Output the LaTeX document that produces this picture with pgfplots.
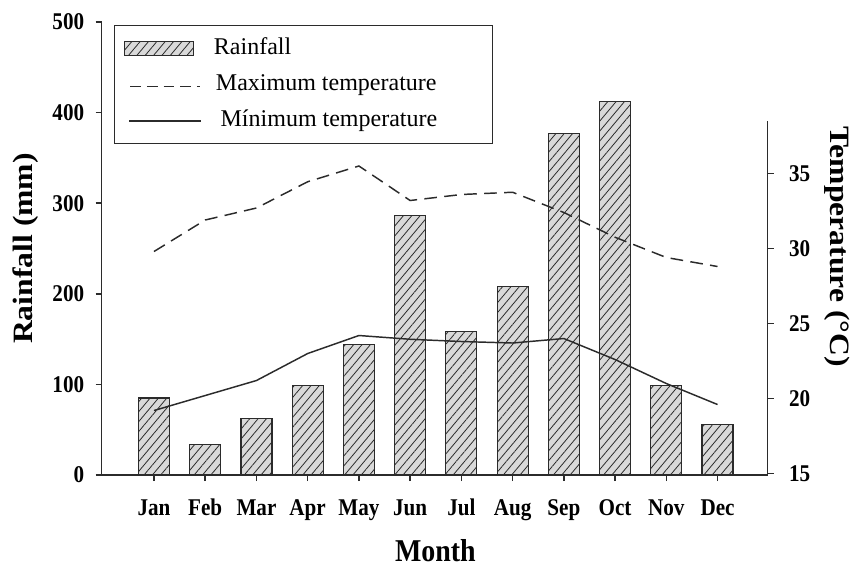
\documentclass[border=0pt]{standalone}
\usepackage{fontspec}
\setmainfont{Liberation Serif}
\newfontfamily\bcond[FakeStretch=0.88]{Liberation Serif}
\newfontfamily\rotfont[FakeStretch=1.13]{Liberation Serif}
\usepackage{pgfplots}
\usepackage{pgfplotstable}
\pgfplotsset{compat=1.18}
\usetikzlibrary{patterns.meta}

\definecolor{barfill}{HTML}{D9D9D9}
\definecolor{linec}{HTML}{2B2B2B}

\pgfplotstableread{
x rain tmax tmin
0 85 29.8 19.2
1 34 31.9 20.2
2 62 32.7 21.2
3 99 34.45 23.0
4 144 35.5 24.2
5 286 33.2 23.95
6 158 33.6 23.8
7 208 33.75 23.7
8 377 32.4 24.0
9 412 30.75 22.6
10 99 29.4 21.0
11 56 28.8 19.6
}\data

\begin{document}
\begin{tikzpicture}
\path[use as bounding box] (-76.3pt,-69pt) rectangle (562.7pt,356.25pt);
\begin{axis}[
  scale only axis, width=499.5pt, height=339.75pt,
  xmin=-1.02, xmax=11.98, ymin=0, ymax=500,
  axis x line*=bottom, axis y line*=left,
  axis line style={line width=1.1pt, color=linec},
  tick align=outside, major tick length=4.5pt,
  tick style={line width=1.1pt, color=linec},
  xtick={0,...,11},
  xticklabels={Jan,Feb,Mar,Apr,May,Jun,Jul,Aug,Sep,Oct,Nov,Dec},
  ytick={0,100,...,500},
  /pgf/number format/assume math mode=true,
  tick label style={font=\bcond\bfseries\fontsize{18}{18}\selectfont},
  xticklabel style={inner sep=0pt, anchor=base, yshift=-26pt},
  yticklabel style={inner sep=0pt, anchor=east},
  yticklabel shift=8.5pt,
  xlabel={Month},
  every axis x label/.style={at={(axis description cs:0.501,-0.166)}, anchor=center,
    font=\bcond\bfseries\fontsize{23.8}{24}\selectfont},
  ylabel={Rainfall (mm)},
  every axis y label/.style={at={(axis description cs:-0.115,0.5)}, anchor=center, rotate=90,
    font=\rotfont\bfseries\fontsize{21}{21}\selectfont},
]
\addplot[ybar, bar width=23.25pt, bar shift=0pt, draw=linec, line width=0.9pt, fill=barfill,
  postaction={pattern color=linec, pattern={Lines[angle=50,distance=4.8pt,line width=0.6pt]}}]
  table[x=x,y=rain]{\data};
\end{axis}
\begin{axis}[
  at={(0pt,1.1pt)},
  scale only axis, width=499.5pt, height=264.4pt,
  xmin=-1.02, xmax=11.98, ymin=15, ymax=38.5,
  axis x line=none, axis y line*=right,
  axis line style={line width=1.1pt, color=linec},
  tick align=outside, major tick length=4.5pt,
  tick style={line width=1.1pt, color=linec},
  ytick={15,20,25,30,35},
  /pgf/number format/assume math mode=true,
  tick label style={font=\bcond\bfseries\fontsize{18}{18}\selectfont},
  yticklabel style={inner sep=0pt, anchor=west, xshift=11.25pt},
  ylabel={Temperature (°C)},
  every axis y label/.style={at={(axis description cs:1.1036,0.644)}, anchor=center, rotate=-90,
    font=\rotfont\bfseries\fontsize{21}{21}\selectfont},
  legend style={at={(axis description cs:0.0185,1.2723)}, anchor=north west,
    draw=linec, line width=0.9pt, fill=white,
    inner xsep=6.75pt, inner ysep=7.6pt, row sep=8pt, column sep=9pt,
    font=\fontsize{18}{18}\selectfont,
    cells={anchor=base west},
    nodes={inner sep=0pt, text height=14pt, text depth=5pt}},
]
\addlegendimage{legend image code/.code={
  \draw[line width=0.9pt, draw=linec, fill=barfill,
    postaction={pattern color=linec, pattern={Lines[angle=50,distance=4.8pt,line width=0.6pt]}}]
    (0pt,-1pt) rectangle (52pt,9.5pt);}}
\addlegendentry{\makebox[202pt][l]{Rainfall}}
\addplot[linec, line width=1.1pt, dash pattern=on 9.5pt off 5.5pt, mark=none,
  legend image code/.code={\draw[linec, line width=1.1pt, dash pattern=on 8pt off 4.5pt]
    (4.5pt,3pt) -- (57pt,3pt);}]
  table[x=x,y=tmax]{\data};
\addlegendentry{\makebox[202pt][l]{\hspace{1.5pt}Maximum temperature}}
\addplot[linec, line width=1.1pt, mark=none,
  legend image code/.code={\draw[linec, line width=1.1pt]
    (3.75pt,4pt) -- (57.75pt,4pt);}]
  table[x=x,y=tmin]{\data};
\addlegendentry{\makebox[202pt][l]{\hspace{5pt}Mínimum temperature}}
\end{axis}
\end{tikzpicture}
\end{document}
